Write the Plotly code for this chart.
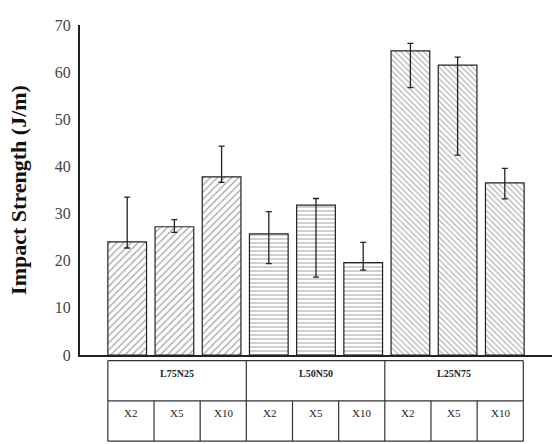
import plotly.graph_objects as go

groups = ["L75N25", "L50N50", "L25N75"]
subs = ["X2", "X5", "X10"]
values = [24.0, 27.2, 37.8, 25.7, 31.8, 19.6, 64.5, 61.5, 36.5]
err_hi = [33.5, 28.7, 44.3, 30.4, 33.2, 23.9, 66.1, 63.2, 39.6]
err_lo = [22.7, 26.0, 36.6, 19.4, 16.5, 18.0, 56.7, 42.4, 33.1]
patterns = ["/", "-", "\\"]
yticks = [0, 10, 20, 30, 40, 50, 60, 70]

serif = "Liberation Serif, Times New Roman, serif"
fig = go.Figure()
for g in range(3):
    idx = list(range(g * 3, g * 3 + 3))
    fig.add_trace(go.Bar(
        x=idx, y=[values[i] for i in idx], width=0.82,
        marker=dict(color="white",
                    line=dict(color="#222", width=1.2),
                    pattern=dict(shape=patterns[g], fgcolor="#444", bgcolor="white",
                                 size=5 if g == 0 else 4, solidity=0.25)),
        error_y=dict(type="data", symmetric=False,
                     array=[err_hi[i] - values[i] for i in idx],
                     arrayminus=[values[i] - err_lo[i] for i in idx],
                     color="#222", thickness=1.3, width=3),
        showlegend=False,
    ))

# table below axis
cw = 0.978
x0 = -0.41
ytop, ymid, ybot = -0.0173, -0.139, -0.261
line = dict(color="#333", width=1.2)
shapes = []
n = len(values)
for yy in (ytop, ymid, ybot):
    shapes.append(dict(type="line", xref="x", yref="paper", x0=x0, x1=x0 + n * cw, y0=yy, y1=yy, line=line))
for k in range(n + 1):
    top = ytop if k % 3 == 0 else ymid
    shapes.append(dict(type="line", xref="x", yref="paper", x0=x0 + k * cw, x1=x0 + k * cw, y0=top, y1=ybot, line=line))
annotations = []
for g, name in enumerate(groups):
    annotations.append(dict(x=x0 + (g * 3 + 1.5) * cw, y=(ytop + ymid) / 2, xref="x", yref="paper",
                            text="<b>" + name + "</b>", showarrow=False,
                            font=dict(family=serif, size=10, color="#222")))
    for s, sname in enumerate(subs):
        annotations.append(dict(x=x0 + (g * 3 + s + 0.5) * cw, y=(ymid + ybot) / 2, xref="x", yref="paper",
                                text=sname, showarrow=False,
                                font=dict(family=serif, size=11, color="#222")))

fig.update_layout(
    width=553, height=444,
    margin=dict(l=80, r=1, t=25, b=89),
    plot_bgcolor="white", paper_bgcolor="white",
    shapes=shapes, annotations=annotations,
    xaxis=dict(range=[-1, 9], showticklabels=False, ticks="", showgrid=False, zeroline=False,
               showline=True, linecolor="#222", linewidth=2),
    yaxis=dict(range=[0, 70], tickvals=yticks, showgrid=False, zeroline=False,
               showline=True, linecolor="#222", linewidth=2, ticks="", ticklabelstandoff=4,
               tickfont=dict(family=serif, size=16, color="#444"),
               title=dict(text="<b>Impact Strength (J/m)</b>", standoff=22,
                          font=dict(family=serif, size=22, color="#111"))),
)
fig.write_html("out.html")
